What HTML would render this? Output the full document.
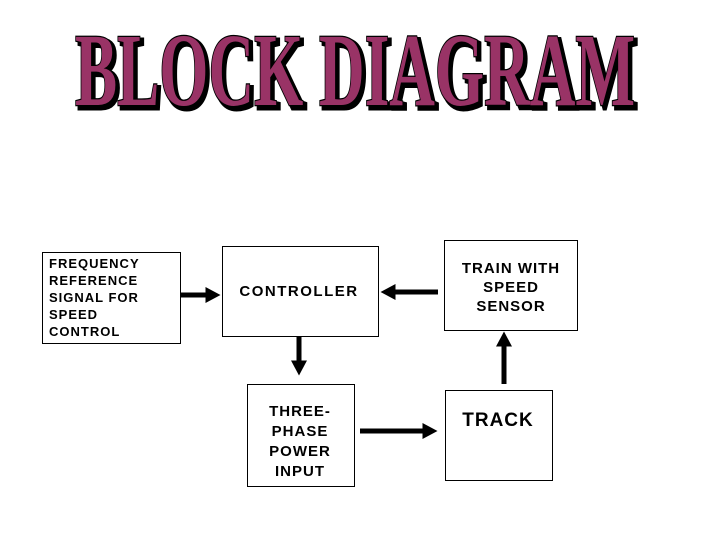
<!DOCTYPE html>
<html><head><style>
html,body{margin:0;padding:0;background:#fff;width:720px;height:540px;overflow:hidden}
</style></head><body>
<svg width="720" height="540" viewBox="0 0 720 540" xmlns="http://www.w3.org/2000/svg">
<defs>
<marker id="ah" markerWidth="4" markerHeight="4" refX="0.5" refY="2" orient="auto" markerUnits="strokeWidth">
<path d="M0,0.4 L3,2 L0,3.6 Z" fill="#000"/>
</marker>
</defs>
<text x="78" y="108" font-family="Liberation Serif" font-weight="bold" font-size="104" textLength="560" lengthAdjust="spacingAndGlyphs" fill="#000" stroke="#000" stroke-width="5">BLOCK DIAGRAM</text>
<text x="75" y="105" font-family="Liberation Serif" font-weight="bold" font-size="104" textLength="560" lengthAdjust="spacingAndGlyphs" fill="#993366" stroke="#000" stroke-width="2.5" paint-order="stroke">BLOCK DIAGRAM</text>

<g fill="#fff" stroke="#000" stroke-width="1">
<rect x="42.5" y="252.5" width="138" height="91"/>
<rect x="222.5" y="246.5" width="156" height="90"/>
<rect x="247.5" y="384.5" width="107" height="102"/>
<rect x="444.5" y="240.5" width="133" height="90"/>
<rect x="445.5" y="390.5" width="107" height="90"/>
</g>
<g font-family="Liberation Sans" font-weight="bold" fill="#000">
<g font-size="13" letter-spacing="1">
<text x="49" y="268">FREQUENCY</text>
<text x="49" y="285">REFERENCE</text>
<text x="49" y="302">SIGNAL FOR</text>
<text x="49" y="319">SPEED</text>
<text x="49" y="336">CONTROL</text>
</g>
<text x="299" y="296" font-size="15" letter-spacing="1.5" text-anchor="middle">CONTROLLER</text>
<g font-size="15" letter-spacing="1" text-anchor="middle">
<text x="300" y="416">THREE-</text>
<text x="300" y="436">PHASE</text>
<text x="300" y="456">POWER</text>
<text x="300" y="476">INPUT</text>
<text x="511" y="273">TRAIN WITH</text>
<text x="511" y="292">SPEED</text>
<text x="511" y="311">SENSOR</text>
</g>
<text x="498" y="426" font-size="19" letter-spacing="1" text-anchor="middle">TRACK</text>
</g>
<g stroke="#000" stroke-width="5">
<line x1="181" y1="295" x2="208" y2="295" marker-end="url(#ah)"/>
<line x1="438" y1="292" x2="393" y2="292" marker-end="url(#ah)"/>
<line x1="299" y1="337" x2="299" y2="363" marker-end="url(#ah)"/>
<line x1="504" y1="384" x2="504" y2="344" marker-end="url(#ah)"/>
<line x1="360" y1="431" x2="425" y2="431" marker-end="url(#ah)"/>
</g>
</svg>
</body></html>
